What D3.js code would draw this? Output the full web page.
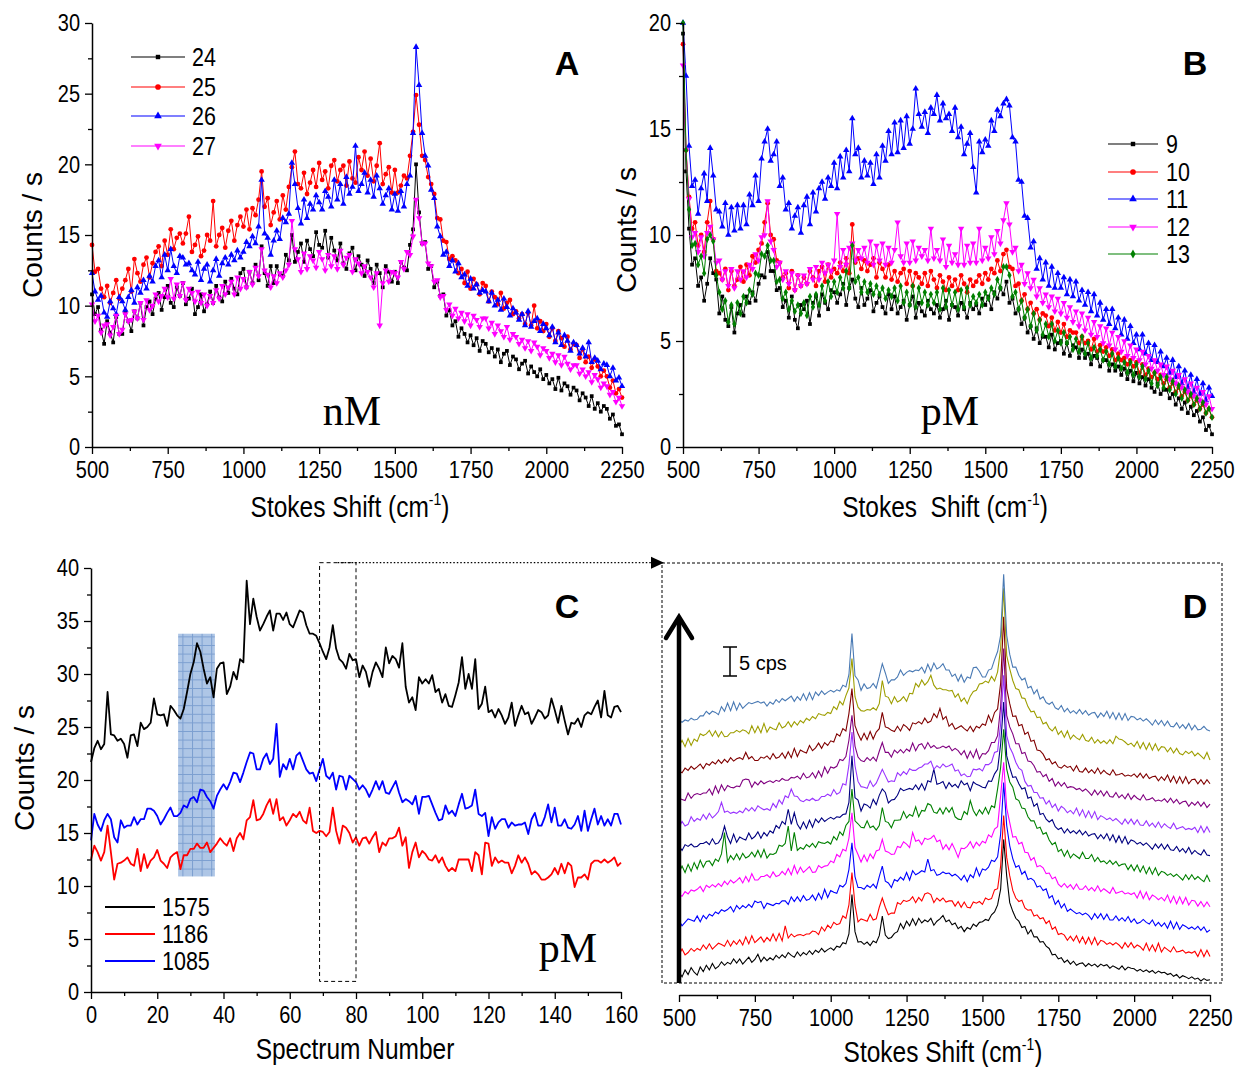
<!DOCTYPE html>
<html><head><meta charset="utf-8">
<script src="https://cdn.jsdelivr.net/npm/d3@7"></script>
<style>
body{margin:0;background:#fff;}
.tall{transform-box:fill-box;transform-origin:center;transform:scaleY(1.2);}
</style>
</head><body>
<svg id="chart" width="1237" height="1067"></svg>
<script>
// ---------------- DATA ----------------
const shiftStart = 500, shiftStep = 10;   // Stokes shift grid (cm-1) for panels A, B, D
const shiftTicks = [500,750,1000,1250,1500,1750,2000,2250];
const shiftMinor = [625,875,1125,1375,1625,1875,2125];

// Panel A (nM) series
const aNames = ["24","25","26","27"];
const a24 = [10.8,9.4,9.9,8.3,7.3,8.9,8.1,7.4,9.2,8.0,
8.0,9.5,8.9,8.2,9.6,9.1,10.2,8.6,9.9,10.3,
9.4,10.5,10.9,9.7,10.6,11.4,10.2,9.9,11.3,10.7,
11.6,10.1,10.5,11.2,9.4,9.9,10.8,9.6,10.1,11.0,
10.2,11.4,10.6,10.3,11.7,10.9,11.9,11.2,10.8,12.3,
12.6,11.3,12.4,11.6,12.9,11.8,14.2,12.3,11.4,12.8,
11.6,12.8,12.2,12.1,13.6,13.2,15.0,13.1,13.8,14.4,
13.1,14.6,14.0,13.5,15.2,14.3,14.1,15.3,13.4,14.8,
13.9,13.2,14.4,13.0,12.6,13.7,14.1,12.5,13.5,12.9,
12.1,13.2,12.6,11.6,12.9,12.3,11.3,12.8,12.4,11.7,
12.4,11.6,13.1,12.7,12.5,14.3,15.4,20.0,16.6,14.4,
14.5,12.6,12.8,11.3,11.7,10.7,10.8,9.3,9.7,8.6,
8.9,7.8,8.4,8.0,7.4,7.9,7.2,7.7,6.8,7.5,
7.3,6.7,7.0,6.4,6.9,6.0,6.6,6.8,5.8,6.4,
6.2,5.5,5.9,6.1,5.2,5.7,5.3,5.0,5.5,4.8,
5.1,4.5,4.8,4.1,4.9,4.0,4.5,4.3,3.7,4.2,
4.0,3.3,3.8,3.5,2.9,3.6,2.7,3.1,2.5,2.9,
2.7,2.0,2.3,1.5,1.6,0.9];
const a25 = [14.3,12.4,12.6,11.2,10.6,11.4,10.2,10.9,11.8,10.5,
11.2,11.8,12.6,11.0,13.3,12.3,11.7,12.9,13.4,12.0,
13.0,13.8,14.2,12.8,14.6,13.6,15.4,14.0,14.8,15.1,
14.4,15.1,16.3,13.8,14.3,14.9,13.5,13.9,15.0,14.6,
17.4,14.2,15.0,15.5,14.1,15.3,16.0,14.6,15.7,16.3,
15.6,16.8,15.4,16.9,16.4,17.5,19.5,17.0,17.6,15.7,
16.6,17.4,16.1,17.8,16.8,18.4,19.8,20.9,18.6,18.3,
19.4,17.9,18.7,19.6,18.4,20.1,18.9,19.5,18.3,19.9,
20.3,18.8,19.6,19.9,18.5,20.2,19.0,18.7,20.5,19.6,
20.9,19.2,20.4,18.8,19.9,21.5,18.6,19.3,19.8,18.0,
19.6,18.0,18.5,19.2,19.0,20.6,22.3,24.9,22.8,20.6,
20.3,19.1,18.6,17.9,16.2,16.1,14.6,14.5,13.3,13.5,
13.2,12.3,12.6,11.6,12.4,11.2,11.9,11.5,10.8,11.6,
11.4,10.3,11.0,10.6,10.1,10.9,9.8,10.2,10.4,9.4,
9.6,9.1,9.4,8.7,9.5,8.6,10.0,8.4,8.9,8.2,
8.7,7.8,8.4,7.5,8.2,7.7,7.1,7.8,6.9,7.3,
7.2,6.3,6.9,6.0,6.4,5.6,6.2,5.7,5.0,5.4,
5.0,4.2,4.7,3.8,4.1,3.5];
const a26 = [12.3,11.0,10.4,10.7,9.5,9.2,10.3,9.8,9.4,10.6,
10.3,9.7,10.6,11.1,10.2,11.3,10.9,11.8,11.2,12.1,
11.7,12.8,13.2,12.0,13.6,12.5,14.0,12.8,12.3,13.5,
13.4,12.9,13.0,12.5,12.2,13.1,11.8,12.6,12.9,11.7,
12.5,13.3,12.1,13.0,13.4,12.9,13.6,13.2,13.9,13.4,
13.8,14.5,14.2,14.9,14.4,15.6,18.9,15.1,14.8,13.6,
14.6,15.3,14.7,16.2,15.9,16.5,20.1,18.6,16.9,15.8,
17.5,16.2,17.2,16.8,17.8,17.3,16.8,18.1,17.7,17.0,
18.9,17.5,18.6,17.2,19.1,17.9,18.4,21.3,18.1,18.6,
19.4,18.0,18.9,17.7,19.2,18.3,17.2,17.8,18.3,16.8,
17.9,16.7,18.1,17.0,18.6,19.2,22.2,28.3,25.6,22.2,
20.6,19.9,18.2,17.6,15.6,14.9,13.6,13.8,12.8,13.2,
12.4,13.0,12.0,12.2,11.4,11.9,11.2,11.5,10.9,11.1,
11.0,10.3,10.9,10.0,10.4,9.7,10.5,9.9,9.3,9.8,
9.5,9.0,9.4,8.6,9.6,8.5,8.9,9.1,8.2,8.7,
8.4,7.9,8.5,7.4,8.1,7.2,7.9,7.5,6.8,7.4,
7.2,6.6,7.0,6.4,7.4,6.0,6.3,6.1,5.5,5.9,
5.8,5.0,5.6,4.7,4.9,4.3];
const a27 = [10.1,8.9,9.3,8.1,8.6,8.7,7.9,8.5,9.3,8.0,
8.3,9.4,8.9,9.0,9.6,9.1,10.2,9.0,10.4,9.7,
10.0,10.8,10.3,10.7,11.2,10.6,11.9,10.5,11.5,10.7,
11.6,10.4,11.2,10.9,10.3,11.0,10.2,10.8,10.0,10.7,
10.2,11.1,10.5,11.4,10.8,11.3,11.7,10.8,12.0,11.2,
11.9,11.3,12.4,11.5,12.7,12.1,14.0,12.5,12.2,11.3,
12.1,11.6,12.3,12.0,12.5,12.9,16.0,14.0,13.3,12.4,
13.7,12.6,13.5,13.2,12.7,13.8,13.3,12.5,13.6,12.8,
13.5,12.6,13.9,12.9,13.4,13.6,12.4,13.3,13.0,12.3,
12.8,12.4,12.0,11.3,12.3,8.6,11.6,12.5,11.7,12.4,
12.3,12.0,13.1,12.6,13.8,13.6,14.9,17.5,16.2,14.4,
14.4,13.0,12.8,11.7,11.8,10.6,10.7,9.7,10.1,9.3,
9.8,9.1,9.5,8.9,9.4,8.6,9.3,9.0,8.5,9.1,
9.1,8.4,8.8,8.0,8.6,8.2,7.8,8.5,7.6,8.0,
7.8,7.3,7.6,7.0,7.5,6.8,7.4,7.1,6.5,7.0,
6.8,6.3,6.6,6.0,6.5,5.8,6.4,5.9,5.5,5.8,
5.8,5.2,5.5,5.0,5.3,4.6,5.1,4.8,4.2,4.5,
4.3,3.7,3.9,3.2,3.5,2.9];

// Panel B (pM) series
const bNames = ["9","10","11","12","13"];
const b9 = [19.5,13.0,10.3,8.6,8.9,7.6,8.0,6.9,7.7,8.9,
8.2,7.9,6.3,7.1,6.0,5.7,6.6,5.4,6.3,6.7,
6.2,7.1,6.8,7.3,6.9,7.7,8.1,8.0,9.2,8.3,
8.3,7.4,7.5,6.6,6.9,6.1,7.1,6.0,5.6,6.7,
6.5,6.9,5.8,6.8,7.1,6.2,7.2,6.8,6.5,7.4,
7.3,6.8,7.2,7.7,6.7,7.5,7.9,7.0,6.6,7.5,
6.7,7.0,7.4,6.4,6.8,7.1,6.6,6.3,7.2,6.5,
7.1,6.3,6.6,6.9,6.0,6.7,7.1,6.1,6.8,6.4,
6.2,6.9,6.5,6.3,6.7,6.1,6.5,6.9,6.0,6.7,
6.6,6.2,6.8,6.5,6.1,6.8,6.5,6.7,6.3,7.0,
6.7,7.1,6.5,7.3,7.0,7.5,7.2,7.8,6.8,7.0,
6.3,6.5,5.8,6.1,5.4,5.7,5.1,5.6,4.9,5.2,
5.2,4.7,5.3,4.6,4.9,5.0,4.4,4.9,4.3,4.8,
4.7,4.2,4.6,4.2,4.4,3.9,4.3,4.2,3.8,4.1,
4.1,3.6,3.9,3.6,3.8,3.4,3.7,3.2,3.6,3.1,
3.5,3.0,3.3,2.9,3.2,2.8,2.6,3.0,2.5,2.7,
2.7,2.3,2.5,2.0,2.3,1.8,2.1,1.6,1.9,1.5,
1.7,1.2,1.4,0.8,1.0,0.6];
const b10 = [19.0,14.0,11.8,10.3,10.6,9.5,10.0,9.2,10.6,11.6,
9.8,8.3,8.2,7.9,8.4,7.4,8.3,7.6,7.9,8.5,
7.8,8.6,8.1,9.0,8.7,9.3,9.6,10.6,11.5,10.0,
9.8,8.8,8.7,8.0,8.2,7.5,8.3,7.4,8.1,7.6,
8.0,7.7,8.3,8.0,7.6,8.3,8.5,7.8,8.6,8.0,
8.4,8.2,8.7,8.3,8.9,8.2,10.5,8.7,8.9,8.4,
8.8,8.3,8.6,8.9,8.0,8.7,8.4,8.0,8.6,7.9,
8.3,7.8,8.2,8.4,7.7,8.3,7.6,8.2,8.0,7.7,
8.2,7.6,8.3,7.9,7.5,8.1,7.8,7.4,8.0,7.6,
7.9,7.4,8.1,7.7,7.3,7.9,7.6,7.8,8.1,7.7,
8.2,7.9,8.4,8.2,8.8,8.3,9.1,9.3,8.5,8.4,
7.6,7.7,6.9,7.2,6.5,6.8,6.3,6.5,6.0,6.3,
6.2,5.7,6.1,5.5,5.9,5.4,5.8,5.2,5.5,5.4,
5.4,4.9,5.2,4.9,5.0,4.6,5.1,4.5,4.8,4.5,
4.7,4.3,4.6,4.1,4.4,4.1,4.2,3.9,4.1,3.8,
4.0,3.5,3.9,3.4,3.7,3.3,3.5,3.2,3.4,3.0,
3.2,2.8,3.0,2.6,2.8,2.4,2.6,2.2,2.4,2.0,
2.2,1.8,2.0,1.6,1.8,1.4];
const b11 = [20.0,17.5,14.2,12.3,12.6,11.0,12.2,12.9,11.6,14.1,
12.8,11.2,11.1,10.4,11.5,10.0,11.3,10.2,11.4,10.3,
11.4,10.5,11.9,11.4,12.8,11.6,13.6,14.4,15.0,13.5,
13.8,14.4,12.3,12.7,11.2,11.5,10.3,10.9,11.3,10.1,
11.4,11.8,10.5,12.0,11.1,12.2,12.5,11.7,12.7,12.3,
13.4,12.2,13.7,12.7,14.0,13.0,15.5,13.8,14.1,12.7,
13.5,12.8,13.4,12.4,13.8,12.7,14.2,13.5,14.9,13.8,
15.3,13.9,15.4,14.1,15.6,14.3,15.0,16.9,15.7,15.1,
15.8,14.8,16.0,15.7,16.6,15.4,16.2,15.5,15.7,14.9,
16.0,14.6,15.1,13.8,14.3,14.8,13.2,12.0,14.4,13.9,
14.5,14.2,15.4,14.9,15.9,15.6,16.2,16.4,16.1,14.6,
14.4,12.6,12.5,10.9,10.8,9.4,9.7,8.4,8.9,7.9,
8.7,7.6,8.5,7.5,8.2,7.5,8.0,7.2,7.9,7.1,
7.8,6.9,7.4,6.7,7.3,6.4,7.2,6.2,6.8,6.0,
6.5,5.8,6.5,5.6,6.1,5.3,6.0,5.1,5.7,4.9,
5.3,4.6,5.3,4.4,4.9,4.1,4.8,4.0,4.5,3.8,
4.2,3.5,4.1,3.3,3.8,3.0,3.6,2.8,3.4,2.6,
3.2,2.5,3.0,2.2,2.8,2.4];
const b12 = [18.0,14.0,11.7,9.9,10.1,9.2,9.9,9.0,10.1,10.4,
9.8,8.7,8.8,7.9,8.3,7.6,8.4,7.5,8.3,7.9,
8.3,8.0,8.6,8.4,9.1,8.8,9.9,10.0,11.6,9.7,
9.3,8.5,8.7,7.9,8.3,7.7,8.2,7.4,8.1,7.6,
8.1,7.7,8.4,7.9,8.5,7.9,8.7,8.2,8.6,8.3,
8.8,11.0,8.5,9.3,8.6,9.4,9.6,8.8,9.3,8.9,
9.4,8.7,9.7,8.6,9.5,8.8,9.6,8.6,9.4,8.7,
9.3,10.6,9.0,8.7,9.6,8.7,9.7,8.8,9.4,9.0,
9.3,8.8,10.3,8.9,9.3,8.8,9.8,8.5,9.5,8.7,
9.1,8.6,10.3,8.6,9.5,8.7,9.6,8.7,10.3,8.8,
9.4,8.9,9.9,9.1,10.2,9.6,10.7,11.5,10.5,9.2,
9.4,8.3,8.6,7.7,8.2,7.5,7.9,7.1,7.5,6.8,
7.2,6.6,7.1,6.4,7.0,6.3,6.8,6.1,6.6,5.9,
6.4,5.7,6.3,5.5,6.1,5.3,5.9,5.2,5.7,4.9,
5.6,4.8,5.4,4.6,5.2,4.5,5.0,4.3,4.8,4.2,
4.6,4.1,4.5,3.9,4.3,3.7,4.1,3.6,3.9,3.4,
3.8,3.2,3.6,3.0,3.4,2.8,3.2,2.6,3.0,2.4,
2.8,2.2,2.6,2.0,2.4,1.8];
const b13 = [20.0,14.0,11.2,9.5,9.6,8.6,9.0,8.2,9.8,10.0,
9.7,8.1,7.3,6.5,6.9,5.9,6.7,5.8,6.8,6.3,
7.1,6.8,7.4,7.2,8.2,8.1,9.1,9.0,9.5,8.8,
8.8,7.8,7.9,7.0,7.3,6.5,6.9,6.4,6.7,6.3,
6.8,6.2,7.1,6.6,7.2,6.7,7.6,6.9,7.8,7.1,
7.8,7.3,8.0,7.5,8.3,7.5,9.5,7.8,8.0,7.3,
7.8,7.3,7.7,7.2,7.6,7.2,7.5,7.0,7.4,7.1,
7.5,6.9,7.6,6.8,7.3,6.7,7.6,6.6,7.5,6.8,
7.3,6.7,7.2,6.8,7.3,6.5,7.5,6.6,7.4,6.7,
7.3,6.5,7.4,6.6,7.5,6.7,7.1,6.8,7.2,6.7,
7.3,7.0,7.5,7.2,7.9,7.5,8.5,8.5,8.1,7.1,
7.3,6.5,6.9,6.1,6.5,5.7,6.3,5.5,6.0,5.3,
5.8,5.2,5.8,5.0,5.5,4.9,5.4,4.9,5.2,4.6,
5.1,4.5,5.2,4.4,4.9,4.2,4.7,4.3,4.6,4.1,
4.5,3.9,4.4,3.8,4.2,3.7,4.0,3.5,4.0,3.4,
3.9,3.3,3.8,3.2,3.6,3.0,3.5,2.9,3.3,2.8,
3.3,2.7,3.1,2.5,2.9,2.3,2.7,2.2,2.5,2.0,
2.3,1.8,2.1,1.6,1.8,1.4];

// Panel C (time trace, index = spectrum number 0..160)
const cNames = ["1575","1186","1085"];
const c1575 = [21.7,23.0,23.7,22.9,23.4,28.3,24.3,24.2,23.7,23.9,
23.4,22.1,24.2,24.3,23.2,25.4,24.8,25.0,25.4,27.7,
26.2,26.1,26.2,25.1,27.0,26.6,26.1,25.8,26.7,28.3,
30.0,31.1,32.9,32.1,30.5,29.1,29.7,27.8,30.5,31.0,
31.1,28.1,28.8,30.2,29.5,31.4,31.1,38.8,34.7,37.1,
35.4,34.1,34.7,35.4,36.0,34.1,35.7,35.7,35.1,35.8,
34.7,34.4,35.2,36.0,35.8,34.6,33.8,33.8,33.6,32.9,
32.1,31.4,32.5,34.6,32.4,31.4,31.1,30.5,31.9,31.3,
31.4,29.7,30.8,30.2,28.8,30.2,31.1,30.5,29.7,32.5,
31.0,31.7,31.4,30.6,32.9,28.8,27.3,27.8,26.6,29.7,
29.1,29.5,29.1,29.9,28.3,28.6,27.3,28.1,27.0,26.9,
28.0,29.2,31.6,28.6,30.0,28.6,31.4,26.7,27.2,28.8,
26.4,26.6,25.9,26.7,26.1,25.3,25.9,27.3,25.1,26.1,
27.0,26.2,26.4,25.3,25.9,26.6,26.4,25.8,26.1,27.7,
26.6,25.4,27.0,25.6,24.3,25.4,25.3,25.8,25.0,26.1,
26.4,26.2,26.9,27.5,25.9,28.4,26.1,25.9,26.9,27.0,
26.4];
const c1186 = [12.5,13.8,13.2,12.4,13.2,15.7,13.2,10.6,12.1,12.2,
12.4,12.7,12.1,11.9,13.5,11.4,13.0,11.7,12.4,12.7,
13.4,12.4,12.1,11.7,12.7,13.0,13.2,11.6,12.9,12.9,
13.5,13.5,14.0,13.6,13.6,14.1,13.2,13.6,14.0,14.5,
14.1,13.8,14.5,13.3,14.5,15.0,14.4,16.2,16.5,18.1,
16.2,16.3,16.8,17.6,18.2,16.8,18.2,16.2,16.5,15.7,
16.2,16.8,16.5,17.0,16.2,15.9,17.4,15.2,15.0,15.2,
15.1,14.7,15.1,17.4,15.2,14.0,15.7,15.5,15.0,14.1,
14.6,13.8,14.5,14.6,14.0,14.6,15.1,13.2,14.1,13.8,
14.5,14.5,14.7,15.5,13.8,14.6,11.7,13.2,14.1,12.7,
13.3,13.0,12.5,12.4,12.9,12.2,12.7,11.9,11.4,11.7,
11.4,12.5,12.5,12.5,12.5,11.4,13.2,12.9,11.1,14.1,
14.0,11.9,12.7,12.2,12.4,12.2,12.2,11.2,11.9,12.9,
12.2,12.7,12.1,11.1,11.4,11.1,10.6,10.6,10.8,11.1,
11.7,11.1,12.1,11.2,12.2,11.9,9.9,10.8,10.8,11.1,
10.6,12.1,12.4,12.4,12.2,12.5,12.2,12.4,12.7,11.9,
12.2];
const c1085 = [14.3,16.8,15.8,15.2,16.2,16.8,16.3,14.6,14.1,16.2,
15.5,15.7,15.7,16.5,15.8,16.3,16.3,17.3,17.3,17.1,
16.6,15.8,16.3,16.9,17.4,16.6,16.6,16.9,17.6,17.4,
18.2,18.4,17.9,19.1,19.0,18.4,18.0,17.3,18.5,19.1,
19.6,19.1,19.8,20.7,20.6,19.8,20.7,21.7,22.6,22.5,
21.0,21.0,22.0,22.5,21.5,22.0,25.3,20.3,21.5,21.0,
22.0,21.0,22.3,22.6,21.8,21.0,20.6,20.7,19.9,21.0,
22.0,20.4,20.1,20.7,19.1,20.4,20.3,19.1,20.4,20.1,
19.8,19.1,19.5,19.1,18.4,19.1,19.9,19.1,19.9,18.8,
18.7,19.3,19.9,18.8,17.9,18.2,18.0,17.7,18.5,16.8,
18.4,18.4,18.5,17.7,16.9,16.2,16.3,17.6,16.8,17.1,
16.6,17.7,18.7,17.3,17.4,17.6,19.1,16.8,16.6,16.9,
14.7,16.5,15.4,16.0,16.3,16.3,15.5,16.0,15.7,15.8,
15.8,16.0,14.9,16.3,16.9,15.7,15.7,16.5,17.7,16.0,
17.4,15.7,15.7,16.3,15.5,15.4,15.8,16.6,15.2,17.1,
15.2,16.3,17.3,15.8,16.6,15.7,16.3,15.7,16.8,16.8,
15.8];
const cHighlight = [26.3, 37.4, 10.9, 33.8];   // spectrum range, counts range of shaded band
const cSelection = [69, 80, 1, 40.5];          // spectrum range, counts range of dashed box

// Panel D: 11 stacked spectra (cps, already offset), bottom to top
const d01 = [2.3,1.4,2.6,1.8,3.0,2.2,1.7,3.1,2.3,3.4,
2.6,3.7,2.8,3.2,4.0,3.4,3.9,3.6,4.5,3.8,
4.5,3.6,4.2,4.8,3.9,4.4,5.3,4.0,4.8,4.2,
4.7,4.3,5.1,4.6,5.2,4.7,5.6,5.1,4.8,5.7,
5.0,5.6,5.2,5.9,5.3,6.0,5.6,6.3,5.7,6.1,
6.4,6.0,6.7,6.5,7.3,7.1,8.8,15.6,9.2,7.4,
7.5,7.0,7.4,6.8,7.6,7.3,8.5,11.9,8.6,8.0,
8.2,8.9,9.2,10.6,9.7,11.0,10.2,11.4,10.3,11.5,
10.7,11.2,10.9,11.5,10.3,11.0,11.4,12.0,10.9,11.2,
10.4,10.7,9.7,10.1,9.2,9.9,9.6,10.5,10.1,10.8,
10.9,11.3,11.1,12.1,12.6,13.8,16.5,25.1,18.8,14.2,
12.7,11.5,11.0,9.9,10.1,8.8,9.5,8.3,8.3,7.4,
7.5,6.7,6.3,5.2,5.3,4.5,4.7,3.9,4.3,3.6,
4.1,3.4,3.7,3.8,3.2,3.7,3.3,3.6,3.1,3.6,
3.3,3.5,2.9,3.3,3.0,2.7,3.3,2.6,3.1,2.9,
2.8,2.4,2.7,2.3,2.6,2.2,2.5,2.0,2.4,2.1,
2.2,1.8,2.0,1.5,1.8,1.2,1.6,1.4,1.1,1.4,
1.0,1.2,0.7,1.1,0.8,0.9];
const d02 = [5.2,6.2,5.2,5.6,6.3,5.8,6.3,6.0,6.9,6.2,
7.1,6.2,6.7,7.2,7.0,6.7,7.7,6.7,7.6,7.0,
7.8,6.9,8.3,7.1,8.5,7.3,7.8,8.3,7.4,8.2,
7.6,8.8,7.6,8.9,7.6,10.2,8.1,8.8,8.3,8.6,
8.7,8.5,8.8,8.8,9.3,9.2,8.7,10.0,9.3,10.3,
9.8,10.8,10.4,10.6,11.9,11.5,13.8,19.4,13.8,10.9,
11.4,11.2,11.0,12.2,11.2,11.4,13.4,15.0,13.4,12.1,
12.4,12.4,14.2,13.9,14.6,14.4,14.6,15.2,14.2,15.1,
14.5,15.7,15.9,15.6,14.2,15.0,14.5,15.0,14.3,14.5,
14.5,13.6,14.4,13.4,14.3,13.4,13.3,14.3,14.1,14.4,
13.9,15.0,14.7,14.9,16.4,16.6,20.5,29.2,22.0,18.8,
16.3,15.0,14.4,14.6,13.3,12.9,13.0,11.9,12.1,11.4,
11.6,10.6,11.1,9.6,10.0,8.7,8.9,8.6,7.7,8.4,
7.6,8.5,7.3,8.3,7.1,8.2,7.0,8.2,6.9,7.7,
7.5,7.0,7.3,6.9,7.3,6.9,6.3,7.3,6.5,7.3,
6.4,6.9,6.6,6.0,7.2,5.9,6.9,5.8,7.2,5.7,
6.5,6.1,5.7,6.6,5.7,5.8,6.0,5.5,5.7,5.5,
5.8,4.9,6.1,4.9,6.0,4.9];
const d03 = [11.1,10.2,10.8,11.4,11.2,11.0,11.9,10.9,12.0,11.4,
12.2,11.9,12.6,12.3,13.0,12.7,13.0,13.5,12.6,13.7,
13.1,13.7,13.3,13.9,13.4,14.5,14.2,14.4,13.2,14.1,
13.9,13.7,14.1,14.0,14.5,14.5,13.9,15.2,14.4,15.2,
14.4,15.4,14.6,14.8,15.5,14.6,15.8,14.8,16.5,15.1,
16.3,16.0,15.8,17.2,16.9,17.5,19.9,24.5,18.7,16.8,
16.8,16.5,17.2,16.8,17.4,16.7,18.7,20.5,17.9,17.6,
16.8,18.2,17.9,18.6,18.1,19.4,18.1,19.7,19.0,19.3,
19.7,19.5,21.7,19.7,19.9,18.9,19.1,19.5,19.2,19.3,
18.8,19.1,18.7,18.1,18.9,17.8,19.0,18.5,20.2,18.8,
20.0,19.8,20.3,21.5,21.3,22.1,26.0,34.9,27.5,24.0,
21.8,20.3,20.6,19.1,19.6,18.2,18.4,18.0,16.9,17.1,
16.3,16.6,15.0,15.4,13.9,14.6,13.3,14.0,12.7,13.1,
12.7,12.3,12.5,12.1,12.4,12.0,11.3,12.3,11.5,12.3,
11.3,12.2,11.2,11.2,11.9,11.1,11.6,11.0,11.8,10.8,
11.4,10.6,10.8,11.3,10.8,10.5,11.2,10.2,10.8,10.1,
10.7,9.8,11.0,9.7,10.8,9.6,10.4,10.1,9.7,10.0,
9.6,10.1,9.4,10.0,9.1,9.5];
const d04 = [15.6,15.3,16.1,15.7,16.4,16.2,16.5,17.0,16.1,17.2,
16.8,17.3,16.9,17.5,17.0,17.9,17.3,18.1,17.6,18.0,
18.5,17.6,18.7,17.8,19.2,18.1,18.1,18.7,18.7,19.0,
18.5,19.5,18.7,18.9,19.6,19.0,20.1,19.0,20.6,19.2,
20.3,19.4,19.9,20.4,19.4,19.5,20.6,20.2,20.5,20.6,
21.4,21.1,22.5,22.1,23.4,23.1,25.3,29.7,23.7,22.5,
21.2,22.4,21.3,22.6,21.8,23.1,23.3,25.1,23.1,22.9,
22.5,22.6,23.9,23.7,24.7,24.3,23.7,26.3,24.8,25.0,
24.2,25.3,25.1,25.3,25.8,24.7,25.0,23.4,24.2,23.3,
24.4,23.3,22.0,23.6,23.5,23.9,24.7,23.6,24.6,24.0,
24.8,24.5,25.9,25.5,26.9,27.3,32.6,38.4,30.5,28.0,
25.5,25.6,24.3,24.6,22.9,22.8,21.5,22.0,20.4,20.6,
20.2,19.2,19.3,18.3,18.6,17.4,16.9,17.5,16.8,17.3,
16.5,17.4,16.5,16.5,17.1,16.3,16.8,16.2,17.1,16.1,
16.6,16.2,15.8,16.8,15.8,16.0,16.2,15.7,15.9,15.6,
15.9,15.0,16.2,14.9,16.0,14.7,15.5,15.2,14.7,15.1,
14.5,15.5,14.2,15.3,14.0,15.2,14.0,15.1,13.8,14.6,
14.5,13.6,14.4,13.5,14.3,13.5];
const d05 = [19.4,20.5,19.4,20.8,19.6,21.1,20.0,21.5,20.3,21.3,
21.4,20.6,21.7,21.3,22.6,26.3,21.2,22.3,21.6,22.6,
21.6,22.7,21.9,22.2,22.9,22.1,23.2,22.0,23.4,21.9,
22.6,22.5,22.8,24.1,23.9,24.4,27.4,23.1,26.3,23.2,
23.7,23.4,24.2,23.8,24.4,23.7,24.7,24.5,24.4,24.7,
24.3,25.6,25.0,26.4,25.8,27.5,28.2,33.8,28.3,27.8,
27.2,27.1,28.3,27.1,27.4,26.7,27.5,30.6,28.2,28.0,
27.1,28.4,28.4,28.5,29.9,28.8,29.4,29.1,30.7,29.0,
30.1,30.0,31.3,31.0,29.8,29.6,30.5,29.5,30.6,29.8,
30.6,29.0,28.6,28.5,29.9,29.4,31.8,30.1,29.2,30.2,
29.5,30.6,29.5,30.9,30.6,33.8,37.5,44.1,37.2,35.0,
34.1,32.1,31.8,30.5,30.4,29.0,28.3,28.3,27.0,27.2,
26.0,26.3,25.0,24.2,24.6,23.0,23.4,22.2,23.2,21.9,
22.6,22.2,21.8,22.9,21.8,21.8,22.5,21.3,22.0,21.2,
21.4,20.9,21.5,20.8,21.3,20.5,20.8,20.9,19.9,20.7,
19.7,20.7,19.5,20.5,19.2,20.3,19.1,20.2,18.9,19.6,
19.4,18.9,19.2,18.7,19.1,18.6,18.1,19.0,18.2,19.0,
18.2,18.7,18.2,17.8,18.9,17.8];
const d06 = [24.0,23.2,24.2,23.9,24.3,23.8,23.9,24.4,24.4,24.7,
24.2,25.2,24.3,24.5,25.4,27.4,25.5,24.4,26.0,24.6,
25.5,25.2,25.0,26.2,25.2,25.6,26.4,25.3,26.3,25.7,
26.6,26.2,27.5,27.0,28.2,27.7,30.3,27.7,29.7,27.7,
26.9,28.1,27.0,28.4,27.2,28.6,28.0,28.8,28.2,28.6,
28.9,28.6,29.0,28.9,29.4,29.5,31.5,39.5,32.3,31.9,
30.0,31.2,31.0,30.5,32.0,31.1,32.7,33.8,33.2,31.4,
31.9,32.0,32.7,33.9,33.5,33.7,33.9,33.7,34.5,33.7,
34.7,33.6,35.2,35.0,37.2,34.6,34.8,35.1,33.9,34.9,
34.2,34.6,34.0,35.2,34.5,34.8,33.5,35.0,34.6,34.4,
34.1,34.0,35.2,35.1,36.4,37.2,41.5,48.8,39.5,37.5,
35.8,35.9,34.7,33.8,34.0,32.2,32.4,30.8,31.3,29.4,
29.6,28.6,28.1,28.5,27.3,26.8,27.1,26.2,26.9,26.2,
26.6,26.1,26.7,25.9,26.5,25.7,26.0,26.1,25.2,25.9,
25.2,26.1,24.9,25.9,24.6,25.7,24.5,25.6,24.3,25.0,
24.8,24.3,24.6,24.1,24.5,24.0,23.4,24.3,23.6,24.3,
23.4,24.2,23.3,23.2,23.9,23.0,23.5,22.8,23.7,22.6,
23.2,22.7,22.4,23.3,22.4,22.3];
const d07 = [27.1,28.2,27.4,27.7,29.0,28.2,28.7,28.4,29.4,28.6,
29.6,28.8,29.3,29.9,31.5,29.8,30.0,29.6,29.8,29.6,
30.0,29.7,30.5,30.0,30.6,30.0,30.9,30.5,30.2,30.4,
30.1,31.3,30.6,31.9,31.2,32.6,32.3,33.8,32.6,32.5,
31.8,31.6,32.0,31.8,32.2,31.8,31.9,32.5,32.5,32.9,
32.6,33.7,32.9,33.2,34.7,34.5,37.9,43.6,37.8,35.1,
34.2,34.1,33.9,35.2,34.2,34.8,36.0,37.2,36.1,35.0,
35.2,35.1,36.6,36.1,36.8,36.3,37.3,37.0,37.0,37.4,
37.6,38.1,38.1,38.6,37.2,37.8,37.4,38.1,37.6,37.8,
38.1,36.9,37.1,36.1,36.4,35.9,36.0,37.2,37.1,37.3,
36.9,38.0,38.0,38.4,40.1,40.3,45.0,53.4,43.0,41.0,
39.9,38.4,37.4,37.0,35.1,34.3,34.4,33.2,33.2,32.2,
32.3,31.2,31.8,30.6,31.2,30.0,30.8,30.4,29.7,30.1,
29.5,30.5,29.2,30.2,28.9,30.0,28.8,29.9,28.5,29.2,
28.9,28.5,28.8,28.3,28.7,28.2,27.7,28.6,27.8,28.6,
27.7,28.5,27.6,27.5,28.3,27.4,27.9,27.2,28.1,27.1,
27.8,27.3,27.0,27.9,26.9,27.1,27.3,26.8,27.0,26.8,
27.2,26.3,27.4,26.3,27.3,26.3];
const d08 = [32.2,32.0,31.8,33.1,32.2,32.8,33.0,32.8,33.1,33.1,
33.8,32.8,34.3,33.1,34.5,33.5,34.4,34.1,34.0,34.3,
34.2,35.3,35.5,35.4,34.1,35.0,34.5,35.2,34.7,35.0,
35.2,34.9,35.3,35.1,35.6,35.3,35.3,35.8,35.7,36.0,
35.5,36.5,35.7,35.9,36.6,35.7,36.9,35.9,37.6,36.5,
37.6,37.4,37.7,38.9,38.7,39.4,42.2,46.5,41.2,39.3,
38.7,38.5,39.2,38.7,39.3,38.6,40.3,41.8,40.1,40.1,
39.3,40.5,40.0,40.6,40.0,40.7,40.3,41.7,40.4,41.4,
41.6,40.7,41.8,40.9,41.3,40.8,40.9,41.2,40.9,41.2,
40.4,40.8,40.4,39.7,40.4,39.1,40.3,39.2,40.6,39.0,
39.9,39.8,40.4,41.8,41.8,43.0,48.0,58.0,46.5,44.5,
43.3,41.6,41.6,39.9,40.1,38.6,38.5,37.8,36.7,36.8,
35.9,36.3,35.1,35.6,34.3,35.0,34.3,34.9,34.0,34.2,
34.1,33.7,33.9,33.4,33.8,33.3,32.7,33.6,32.8,33.5,
32.6,33.4,32.5,32.4,33.2,32.3,32.8,32.1,33.0,32.0,
32.7,32.2,31.9,32.8,31.9,32.0,32.3,31.7,31.9,31.7,
32.1,31.5,32.2,31.4,32.0,31.2,31.6,31.7,30.8,31.5,
31.0,31.6,30.8,31.5,30.6,31.2];
const d09 = [36.9,36.6,37.4,37.0,37.7,37.2,37.6,38.1,37.3,38.2,
37.9,38.5,38.1,38.8,38.2,38.9,38.4,39.2,38.6,39.0,
39.2,38.9,40.1,39.0,39.4,38.7,38.7,39.3,39.1,39.5,
38.9,39.9,39.1,39.3,40.0,39.1,40.2,39.2,40.8,39.4,
40.5,40.2,40.0,41.3,40.4,40.9,41.7,40.8,41.8,41.3,
42.1,41.9,43.3,42.9,44.2,43.8,46.8,51.1,44.7,43.3,
42.2,43.4,42.3,43.7,42.4,43.6,44.2,47.0,44.5,44.3,
43.9,43.7,44.6,43.8,44.9,44.5,43.9,45.2,45.0,45.4,
45.0,46.0,45.2,45.5,46.8,46.1,47.7,45.8,46.3,44.6,
45.1,44.1,44.4,44.7,44.2,43.8,44.6,43.7,44.6,44.3,
45.0,44.8,46.5,45.3,47.0,47.6,52.0,63.5,51.1,48.5,
46.3,46.4,44.7,44.9,43.2,43.6,42.0,42.2,40.5,40.4,
39.8,38.8,39.0,38.1,38.5,37.6,37.4,37.9,37.5,37.7,
36.9,37.8,36.8,36.7,37.4,36.6,37.1,36.5,37.4,36.4,
37.0,36.5,36.2,37.1,36.2,36.3,36.5,36.0,36.2,36.0,
36.4,35.8,36.5,35.7,36.4,35.6,35.9,36.0,35.2,35.9,
35.3,36.2,35.0,36.0,34.8,35.9,34.8,35.9,34.7,35.4,
35.5,34.7,35.4,34.6,35.4,34.7];
const d10 = [41.1,42.2,41.1,42.5,41.3,42.4,42.0,43.3,43.0,43.3,
43.9,42.9,43.8,42.8,43.7,42.8,42.9,43.5,43.5,43.9,
43.6,44.0,43.8,43.3,44.7,43.5,44.6,43.5,45.1,43.6,
44.5,44.2,44.0,45.2,44.3,44.6,45.4,44.5,45.4,44.8,
45.6,45.2,46.0,45.6,46.3,45.9,46.8,46.6,46.5,47.0,
46.8,48.0,47.5,48.9,48.3,49.9,51.2,56.3,49.7,47.9,
47.3,47.2,47.5,47.4,47.8,47.4,48.5,52.5,49.8,49.6,
48.5,49.7,48.8,49.1,49.7,48.9,50.3,50.2,52.0,51.4,
52.6,51.7,52.3,53.4,51.7,51.0,51.2,50.9,50.9,50.7,
50.8,49.6,50.2,48.9,49.5,48.5,49.8,50.6,50.8,51.9,
52.0,52.4,52.1,53.2,52.4,54.0,58.0,68.4,56.8,54.5,
52.5,51.1,50.9,49.5,49.4,48.0,47.1,47.2,46.1,46.2,
45.0,45.3,44.3,43.8,44.5,43.2,43.8,42.7,43.8,42.4,
43.1,42.6,42.3,43.2,42.2,42.0,42.7,41.7,42.3,41.7,
42.1,41.6,42.3,41.6,42.9,42.4,42.3,41.9,41.4,41.7,
41.1,42.0,40.8,41.8,40.6,41.7,40.5,41.6,40.4,41.1,
41.0,40.2,40.9,40.0,40.8,39.9,39.7,40.3,39.9,40.3,
39.5,40.0,39.5,39.0,40.1,38.8];
const d11 = [45.6,45.3,45.7,45.5,46.0,45.7,45.8,46.4,46.4,47.2,
46.7,47.2,47.0,46.6,48.0,47.2,48.6,47.3,48.8,47.4,
48.6,47.7,48.2,48.7,48.5,48.7,48.9,48.6,48.8,48.1,
48.8,48.4,49.2,48.7,49.4,49.0,49.4,49.8,48.9,49.7,
49.1,50.2,49.1,50.4,49.2,50.5,49.9,50.7,50.1,50.5,
50.8,50.5,50.9,50.7,51.7,51.4,53.5,60.6,53.3,52.6,
50.8,51.9,51.1,51.3,52.0,51.2,53.2,55.4,53.8,52.0,
52.6,52.6,53.1,54.3,53.4,53.9,54.2,54.0,54.3,54.2,
54.8,53.8,55.3,54.1,55.5,54.5,54.8,55.4,54.3,54.3,
53.2,53.6,52.4,53.5,52.2,53.1,52.9,54.7,54.8,54.1,
53.1,53.1,54.3,54.5,56.1,57.5,60.3,70.8,60.3,57.0,
54.8,54.8,53.4,52.6,52.9,51.2,51.5,50.2,50.9,49.3,
49.7,48.7,48.4,48.8,47.8,47.5,48.2,47.1,47.7,46.9,
47.3,46.8,47.5,46.7,47.3,46.5,46.9,47.0,46.1,46.9,
46.3,47.2,46.0,47.0,45.8,46.9,45.7,46.8,45.6,46.3,
46.2,45.7,46.0,45.5,45.9,45.4,44.8,45.7,44.9,45.6,
44.7,45.5,44.6,44.5,45.2,44.3,44.9,44.2,45.1,44.0,
44.8,44.0,44.1,44.6,44.0,43.8];
const dSpectra = [d01,d02,d03,d04,d05,d06,d07,d08,d09,d10,d11];
const dScaleBarCps = 5;

// ---------------- STYLE ----------------
const FONT = '"Liberation Sans",Arial,sans-serif';
const SERIF = '"Liberation Serif","Times New Roman",serif';
const aColors = ["#000000","#ff0000","#0000ff","#ff00ff"];
const bColors = ["#000000","#ff0000","#0000ff","#ff00ff","#008000"];
const cColors = ["#000000","#ff0000","#0000ff"];
const dColors = ["#000000","#ff0000","#0000ff","#ff00ff","#008000","#000080","#9933ff","#800080","#800000","#9e9e00","#4a7ab4"];
const markerTypes = [
  {t:d3.symbolSquare, s:14, r:0},
  {t:d3.symbolCircle, s:18, r:0},
  {t:d3.symbolTriangle, s:18, r:0},
  {t:d3.symbolTriangle, s:18, r:180},
  {t:d3.symbolDiamond, s:16, r:0}
];

const svg = d3.select("#chart");
const TICK_FS = 20;

function asPoints(vals){ return vals.map((v,i)=>[shiftStart+i*shiftStep, v]); }

function styleAxis(g){
  g.select(".domain").attr("stroke","#000").attr("stroke-width",1.5);
  g.selectAll(".tick line").attr("stroke","#000").attr("stroke-width",1.3);
  g.selectAll(".tick text").attr("font-family",FONT).attr("font-size",TICK_FS).attr("fill","#000").attr("class","tall");
}
function xAxis(x, y0, major, minor){
  const g = svg.append("g").attr("transform",`translate(0,${y0})`);
  g.call(d3.axisBottom(x).tickValues(major).tickSize(7).tickSizeOuter(0).tickPadding(8.5).tickFormat(d3.format("d")));
  styleAxis(g);
  const m = svg.append("g").attr("transform",`translate(0,${y0})`);
  m.call(d3.axisBottom(x).tickValues(minor).tickSize(4).tickSizeOuter(0).tickFormat(""));
  m.select(".domain").remove(); m.selectAll(".tick line").attr("stroke-width",1.3);
}
function yAxis(y, x0, major, minor){
  const g = svg.append("g").attr("transform",`translate(${x0},0)`);
  g.call(d3.axisLeft(y).tickValues(major).tickSize(7).tickSizeOuter(0).tickPadding(5).tickFormat(d3.format("d")));
  styleAxis(g);
  const m = svg.append("g").attr("transform",`translate(${x0},0)`);
  m.call(d3.axisLeft(y).tickValues(minor).tickSize(4).tickSizeOuter(0).tickFormat(""));
  m.select(".domain").remove(); m.selectAll(".tick line").attr("stroke-width",1.3);
}
function text(str, x, y, size, opts={}){
  return svg.append("text").attr("x",x).attr("y",y).attr("font-size",size)
    .attr("font-family",opts.font||FONT).attr("font-weight",opts.weight||"normal")
    .attr("text-anchor",opts.anchor||"middle").attr("fill","#000").text(str);
}
function yTitle(x, yc){
  svg.append("text").attr("transform",`translate(${x},${yc}) rotate(-90)`)
    .attr("text-anchor","middle").attr("font-family",FONT).attr("font-size",28).text("Counts / s");
}
function shiftTitle(xc, yb, label){
  const t = svg.append("text").attr("x",xc).attr("y",yb).attr("text-anchor","middle")
    .attr("font-family",FONT).attr("font-size",24.5).attr("class","tall");
  t.append("tspan").text(label+" (cm");
  t.append("tspan").text("-1").attr("font-size",14).attr("dy",-10);
  t.append("tspan").text(")").attr("dy",10);
}
function markerSeries(g, x, y, vals, color, mk){
  const pts = asPoints(vals);
  g.append("path").datum(pts).attr("fill","none").attr("stroke",color).attr("stroke-width",1)
    .attr("d", d3.line().x(d=>x(d[0])).y(d=>y(d[1])));
  const sym = d3.symbol().type(mk.t).size(mk.s);
  g.selectAll(null).data(pts).join("path").attr("d",sym).attr("fill",color)
    .attr("transform",d=>`translate(${x(d[0])},${y(d[1])}) rotate(${mk.r})`);
}
function legend(names, colors, markers, x0, x1, tx, ys, withMarkers){
  names.forEach((n,i)=>{
    svg.append("line").attr("x1",x0).attr("x2",x1).attr("y1",ys[i]).attr("y2",ys[i])
      .attr("stroke",colors[i]).attr("stroke-width", withMarkers?1.2:2);
    if(withMarkers){
      const mk = markers[i];
      svg.append("path").attr("d",d3.symbol().type(mk.t).size(mk.s*1.4)())
        .attr("transform",`translate(${(x0+x1)/2},${ys[i]}) rotate(${mk.r})`).attr("fill",colors[i]);
    }
    text(n, tx, ys[i], 21.5, {anchor:"start"}).attr("dy","0.36em").attr("class","tall");
  });
}

// ---------------- PANEL A ----------------
{
  const x = d3.scaleLinear().domain([500,2250]).range([92,622]);
  const y = d3.scaleLinear().domain([0,30]).range([447,23]);
  const g = svg.append("g");
  [a24,a25,a26,a27].forEach((s,i)=>markerSeries(g,x,y,s,aColors[i],markerTypes[i]));
  xAxis(x, 447, shiftTicks, shiftMinor);
  yAxis(y, 92, d3.range(0,31,5), d3.range(2.5,30,5));
  yTitle(42, 235);
  shiftTitle(350, 515, "Stokes Shift");
  text("A", 567, 75, 34, {weight:"bold"});
  text("nM", 352, 425, 42, {font:SERIF});
  legend(aNames, aColors, markerTypes, 131, 185, 192, [57,87,116,146], true);
}

// ---------------- PANEL B ----------------
{
  const x = d3.scaleLinear().domain([500,2250]).range([683,1212]);
  const y = d3.scaleLinear().domain([0,20]).range([447,23]);
  const g = svg.append("g");
  [b9,b10,b11,b12,b13].forEach((s,i)=>markerSeries(g,x,y,s,bColors[i],markerTypes[i]));
  xAxis(x, 447, shiftTicks, shiftMinor);
  yAxis(y, 683, d3.range(0,21,5), d3.range(2.5,20,5));
  yTitle(636, 230);
  shiftTitle(945, 515, "Stokes\u00a0 Shift");
  text("B", 1195, 75, 34, {weight:"bold"});
  text("pM", 950, 425, 42, {font:SERIF});
  legend(bNames, bColors, markerTypes, 1108, 1158, 1166, [144,172,199,227,254], true);
}

// ---------------- PANEL C ----------------
{
  const x = d3.scaleLinear().domain([0,160]).range([91,621]);
  const y = d3.scaleLinear().domain([0,40]).range([992,568]);
  const defs = svg.append("defs");
  const pat = defs.append("pattern").attr("id","grid").attr("patternUnits","userSpaceOnUse")
    .attr("width",9.6).attr("height",8.6);
  pat.append("rect").attr("width",9.6).attr("height",8.6).attr("fill","#aec6e6");
  pat.append("path").attr("d","M0,0.5H9.6M0.5,0V8.6").attr("stroke","#7c9fd0").attr("stroke-width",1);
  svg.append("rect").attr("x",x(cHighlight[0])).attr("width",x(cHighlight[1])-x(cHighlight[0]))
    .attr("y",y(cHighlight[3])).attr("height",y(cHighlight[2])-y(cHighlight[3])).attr("fill","url(#grid)");
  const line = d3.line().x((d,i)=>x(i)).y(d=>y(d));
  [c1575,c1186,c1085].forEach((s,i)=>{
    svg.append("path").datum(s).attr("fill","none").attr("stroke",cColors[i]).attr("stroke-width",1.8)
      .attr("stroke-linejoin","round").attr("d",line);
  });
  svg.append("rect").attr("x",x(cSelection[0])).attr("width",x(cSelection[1])-x(cSelection[0]))
    .attr("y",y(cSelection[3])).attr("height",y(cSelection[2])-y(cSelection[3]))
    .attr("fill","none").attr("stroke","#000").attr("stroke-width",1).attr("stroke-dasharray","4,3");
  xAxis(x, 992, d3.range(0,161,20), d3.range(10,160,20));
  yAxis(y, 91, d3.range(0,41,5), d3.range(2.5,40,5));
  yTitle(34, 768);
  text("Spectrum Number", 355, 1057, 24.5).attr("class","tall");
  text("C", 567, 618, 34, {weight:"bold"});
  text("pM", 568, 962, 42, {font:SERIF});
  legend(cNames, cColors, null, 105, 155, 162, [907,934,961], false);
  const yTop = y(cSelection[3]);
  svg.append("line").attr("x1",(x(cSelection[0])+x(cSelection[1]))/2).attr("x2",651)
    .attr("y1",yTop).attr("y2",yTop).attr("stroke","#000").attr("stroke-width",1.3).attr("stroke-dasharray","1.5,2");
  svg.append("path").attr("d",`M651,${yTop-6}L664,${yTop}L651,${yTop+6}Z`).attr("fill","#000");
}

// ---------------- PANEL D ----------------
{
  const x = d3.scaleLinear().domain([500,2250]).range([679,1210]);
  const y = d3.scaleLinear().domain([0,72]).range([985,567.4]);
  svg.append("rect").attr("x",662).attr("y",563).attr("width",560).attr("height",420)
    .attr("fill","none").attr("stroke","#000").attr("stroke-width",1).attr("stroke-dasharray","3,2");
  const line = d3.line().x(d=>x(d[0])).y(d=>y(d[1]));
  dSpectra.forEach((s,i)=>{
    svg.append("path").datum(asPoints(s)).attr("fill","none").attr("stroke",dColors[i])
      .attr("stroke-width",1.1).attr("d",line);
  });
  xAxis(x, 995, shiftTicks, shiftMinor);
  shiftTitle(943, 1060, "Stokes Shift");
  text("D", 1195, 618, 34, {weight:"bold"});
  svg.append("line").attr("x1",679).attr("x2",679).attr("y1",983).attr("y2",618)
    .attr("stroke","#000").attr("stroke-width",4.5);
  svg.append("path").attr("d","M666,638L679,617L692,638").attr("fill","none")
    .attr("stroke","#000").attr("stroke-width",4.5).attr("stroke-linecap","round");
  const yb0 = 676, yb1 = yb0 - (y(0)-y(dScaleBarCps));
  svg.append("path").attr("d",`M723,${yb0}H737M730,${yb0}V${yb1}M723,${yb1}H737`)
    .attr("stroke","#000").attr("stroke-width",1.5).attr("fill","none");
  text(dScaleBarCps+" cps", 739, 670, 20, {anchor:"start"});
}
</script>
</body></html>
